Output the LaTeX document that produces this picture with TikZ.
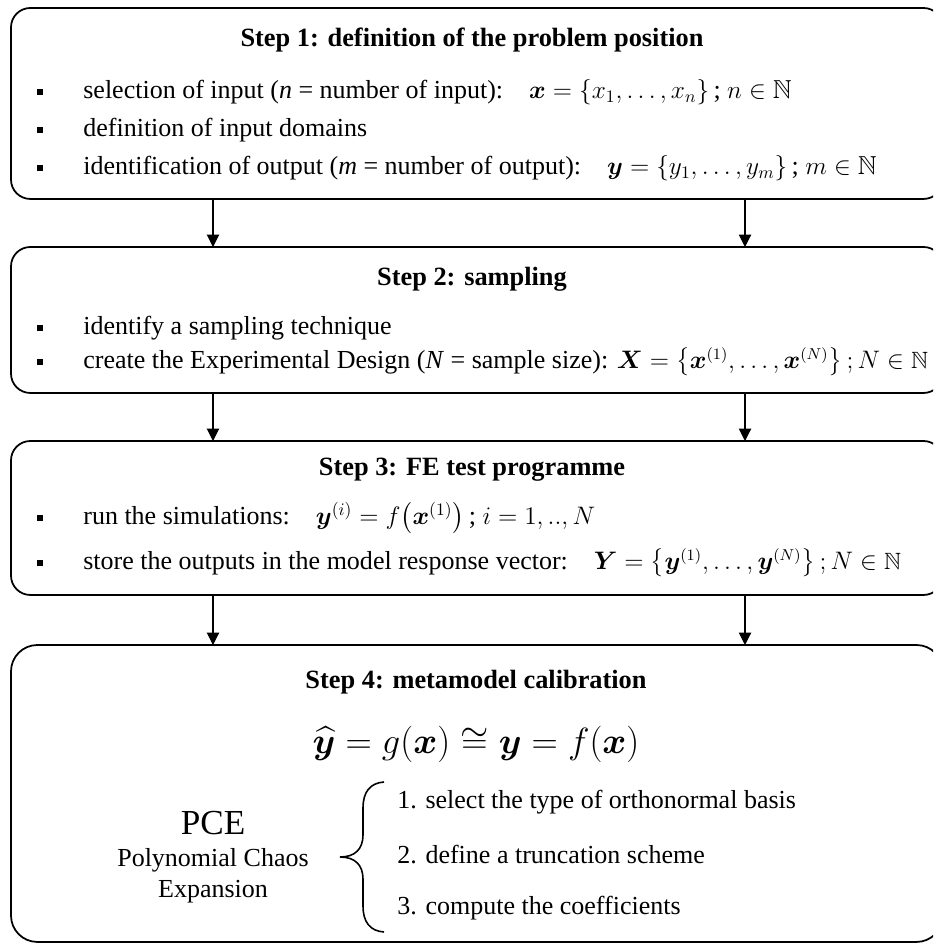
\documentclass[tikz,border=0pt]{standalone}
\usepackage{amsmath,amssymb,bm}
\usepackage{fontspec}
\setmainfont{Liberation Serif}
\usetikzlibrary{arrows.meta}

\newcommand{\setmath}[1]{{\fontsize{13.4}{16}\selectfont$#1$}}

\tikzset{
  stepbox/.style={draw, line width=1pt, rounded corners=11pt, anchor=north west,
    inner sep=0pt, outer sep=0pt, minimum width=18.64cm},
  flow/.style={-{Triangle[width=7pt,length=7pt]}, line width=0.6pt},
  steptitle/.style={inner sep=1pt, font=\fontsize{15}{18}\selectfont\bfseries},
  item/.style={anchor=west, inner sep=0pt, font=\fontsize{14.8}{18}\selectfont},
  dot/.style={fill, minimum size=3.8pt, inner sep=0pt},
}

\begin{document}
\begin{tikzpicture}[x=0.02cm,y=-0.02cm]
\clip (0,0) rectangle (933,945);

\node[stepbox, minimum height=3.82cm] (s1) at (11,8) {};
\node[stepbox, minimum height=2.92cm] (s2) at (11,247) {};
\node[stepbox, minimum height=3.08cm] (s3) at (11,441) {};
\node[stepbox, minimum height=5.94cm, rounded corners=15pt] (s4) at (11,645) {};

\foreach \xa in {213,745} {
  \draw[flow] (s1.south -| \xa,0) -- (s2.north -| \xa,0);
  \draw[flow] (s2.south -| \xa,0) -- (s3.north -| \xa,0);
  \draw[flow] (s3.south -| \xa,0) -- (s4.north -| \xa,0);
}

\node[steptitle] (t1) at (472,40) {Step 1: definition of the problem position};
\node[dot] (d11) at (40,92) {};
\node[item] (l11) at (83,92) {selection of input (\textit{n} = number of input):\quad $\bm{x}=\{x_1,\dots,x_n\}$\,; $n\in\mathbb{N}$};
\node[dot] (d12) at (40,130) {};
\node[item] (l12) at (83,130) {definition of input domains};
\node[dot] (d13) at (40,168) {};
\node[item] (l13) at (83,168) {identification of output (\textit{m} = number of output):\quad $\bm{y}=\{y_1,\dots,y_m\}$\,; $m\in\mathbb{N}$};

\node[steptitle] (t2) at (472,279) {Step 2: sampling};
\node[dot] (d21) at (40,328) {};
\node[item] (l21) at (83,328) {identify a sampling technique};
\node[dot] (d22) at (40,362) {};
\node[item] (l22) at (83,362) {create the Experimental Design (\textit{N} = sample size): \setmath{\bm{X}=\bigl\{\bm{x}^{(1)},\dots,\bm{x}^{(N)}\bigr\}\,;N\in\mathbb{N}}};

\node[steptitle] (t3) at (472,470) {Step 3: FE test programme};
\node[dot] (d31) at (40,518) {};
\node[item] (l31) at (83,518) {run the simulations:\quad $\bm{y}^{(i)}=f\bigl(\bm{x}^{(1)}\bigr)$\,; $i=1,..,N$};
\node[dot] (d32) at (40,563) {};
\node[item] (l32) at (83,563) {store the outputs in the model response vector:\quad \setmath{\bm{Y}=\bigl\{\bm{y}^{(1)},\dots,\bm{y}^{(N)}\bigr\}\,;N\in\mathbb{N}}};

\node[steptitle] (t4) at (476,682) {Step 4: metamodel calibration};
\node[inner sep=0pt, font=\fontsize{19.5}{23}\selectfont] (eq) at (476,744) {$\widehat{\bm{y}}=g(\bm{x})\cong\bm{y}=f(\bm{x})$};

\node[font=\fontsize{20}{24}\selectfont] (pce) at (213,823) {PCE};
\node[font=\fontsize{14.8}{18}\selectfont] (pce1) at (213,860) {Polynomial Chaos};
\node[font=\fontsize{14.8}{18}\selectfont] (pce2) at (213,892) {Expansion};

\draw[line width=0.9pt] (384,782) .. controls (370,783) and (363,792) .. (363,808) -- (363,835)
  .. controls (363,849) and (355,857) .. (340,857) .. controls (355,857) and (363,865) .. (363,879)
  -- (363,906) .. controls (363,922) and (370,931) .. (384,932);

\node[item] (c1) at (397,802) {1. select the type of orthonormal basis};
\node[item] (c2) at (397,855) {2. define a truncation scheme};
\node[item] (c3) at (397,908) {3. compute the coefficients};
\end{tikzpicture}
\end{document}
